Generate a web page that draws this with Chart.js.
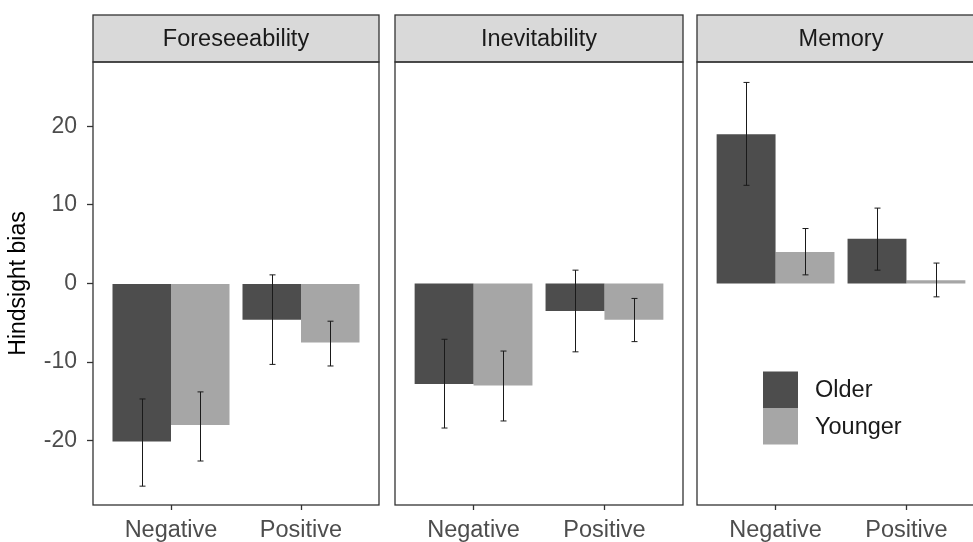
<!DOCTYPE html>
<html><head><meta charset="utf-8">
<script src="https://cdn.jsdelivr.net/npm/chart.js@4.4.1/dist/chart.umd.min.js"></script>
<style>
html,body{margin:0;padding:0;background:#fff;overflow:hidden;width:973px;height:542px;position:relative;}
canvas{position:absolute;top:0;}
</style></head><body>
<canvas id="c1" width="385" height="542" style="left:0px"></canvas>
<canvas id="c2" width="300" height="542" style="left:389px"></canvas>
<canvas id="c3" width="300" height="542" style="left:691px"></canvas>
<script>
// ---- data ----
const categories = ['Negative', 'Positive'];
const panels = ['Foreseeability', 'Inevitability', 'Memory'];
const groups = ['Older', 'Younger'];
const yTicks = [-20, -10, 0, 10, 20];

const foreOlder = [-20.1, -4.6];
const foreOlderLo = [-25.8, -10.3];
const foreOlderHi = [-14.7, 1.1];
const foreYounger = [-18.0, -7.5];
const foreYoungerLo = [-22.6, -10.5];
const foreYoungerHi = [-13.8, -4.8];

const inevOlder = [-12.8, -3.5];
const inevOlderLo = [-18.4, -8.7];
const inevOlderHi = [-7.1, 1.7];
const inevYounger = [-13.0, -4.6];
const inevYoungerLo = [-17.5, -7.4];
const inevYoungerHi = [-8.6, -1.9];

const memOlder = [19.0, 5.7];
const memOlderLo = [12.5, 1.7];
const memOlderHi = [25.6, 9.6];
const memYounger = [4.0, 0.4];
const memYoungerLo = [1.1, -1.7];
const memYoungerHi = [7.0, 2.6];

// ---- styles ----
const FONT = '"Liberation Sans", Arial, sans-serif';
const colors = ['#4d4d4d', '#a6a6a6'];
const Y_MIN = -28.2, Y_MAX = 28.2;

function toXY(vals) { return vals.map((v, i) => ({ x: i + 1, y: v })); }

const facetPlugin = {
  id: 'facet',
  beforeDraw(chart) {
    const { ctx, chartArea: a } = chart;
    const o = chart.options.plugins.facet;
    ctx.save();
    ctx.fillStyle = '#d9d9d9';
    ctx.fillRect(a.left, 15, a.right - a.left, a.top - 15);
    ctx.strokeStyle = '#333333';
    ctx.lineWidth = 1.3;
    ctx.strokeRect(a.left, 15, a.right - a.left, a.top - 15);
    ctx.fillStyle = '#1a1a1a';
    ctx.font = '23.5px ' + FONT;
    ctx.textAlign = 'center';
    ctx.textBaseline = 'middle';
    ctx.fillText(o.title, (a.left + a.right) / 2, (15 + a.top) / 2 + 1);
    ctx.restore();
  },
  afterDatasetsDraw(chart) {
    const { ctx, chartArea: a, scales } = chart;
    const o = chart.options.plugins.facet;
    ctx.save();
    // error bars
    ctx.strokeStyle = '#1a1a1a';
    ctx.lineWidth = 1;
    chart.data.datasets.forEach((ds, i) => {
      const meta = chart.getDatasetMeta(i);
      meta.data.forEach((el, j) => {
        const x = Math.round(el.x) + 0.5;
        const y1 = scales.y.getPixelForValue(ds.errLo[j]);
        const y2 = scales.y.getPixelForValue(ds.errHi[j]);
        ctx.beginPath();
        ctx.moveTo(x, y1); ctx.lineTo(x, y2);
        ctx.moveTo(x - 3, y1); ctx.lineTo(x + 3, y1);
        ctx.moveTo(x - 3, y2); ctx.lineTo(x + 3, y2);
        ctx.stroke();
      });
    });
    // panel border
    ctx.strokeStyle = '#333333';
    ctx.lineWidth = 1.3;
    ctx.strokeRect(a.left, a.top, a.right - a.left, a.bottom - a.top);
    // legend
    if (o.legend) {
      const kx = a.left + 66, kw = 35, kh = 36.5;
      let ky = a.top + 309.5;
      ctx.font = '23.5px ' + FONT;
      ctx.textAlign = 'left';
      ctx.textBaseline = 'middle';
      chart.data.datasets.forEach((ds, i) => {
        ctx.fillStyle = ds.backgroundColor;
        ctx.fillRect(kx, ky, kw, kh);
        ctx.fillStyle = '#1a1a1a';
        ctx.fillText(ds.label, kx + 52, ky + kh / 2 + 1);
        ky += kh;
      });
    }
    ctx.restore();
  }
};

function makeChart(id, title, older, olderLo, olderHi, younger, youngerLo, youngerHi, first, legend) {
  return new Chart(document.getElementById(id), {
    type: 'bar',
    data: {
      datasets: [
        { label: groups[0], data: toXY(older), errLo: olderLo, errHi: olderHi, backgroundColor: colors[0], borderWidth: 0 },
        { label: groups[1], data: toXY(younger), errLo: youngerLo, errHi: youngerHi, backgroundColor: colors[1], borderWidth: 0 }
      ]
    },
    options: {
      responsive: false,
      animation: false,
      events: [],
      layout: { padding: { top: 62, bottom: 0, left: first ? 0 : 6, right: 6 } },
      datasets: { bar: { categoryPercentage: 0.9, barPercentage: 1.0 } },
      plugins: {
        legend: { display: false },
        tooltip: { enabled: false },
        facet: { title: title, legend: legend }
      },
      scales: {
        x: {
          type: 'linear', min: 0.4, max: 2.6, offset: false,
          afterBuildTicks: s => { s.ticks = categories.map((c, i) => ({ value: i + 1 })); },
          afterFit: s => { s.height = 37; },
          ticks: {
            autoSkip: false, maxRotation: 0, padding: 6,
            color: '#4d4d4d', font: { family: FONT, size: 23.5 },
            callback: (v, i) => categories[i]
          },
          grid: { offset: false, drawOnChartArea: false, drawTicks: true, tickLength: 5, tickColor: '#333333', tickWidth: 1.3 },
          border: { display: false }
        },
        y: {
          display: first,
          min: Y_MIN, max: Y_MAX,
          afterBuildTicks: s => { s.ticks = yTicks.map(v => ({ value: v })); },
          afterFit: s => { s.width = first ? 93 : 0; },
          ticks: { padding: 10, color: '#4d4d4d', font: { family: FONT, size: 23 } },
          grid: { drawOnChartArea: false, drawTicks: true, tickLength: 6, tickColor: '#333333', tickWidth: 1.3 },
          border: { display: false },
          title: { display: true, text: 'Hindsight bias', color: '#000', font: { family: FONT, size: 23 }, padding: { top: 5, bottom: 0 } }
        }
      }
    },
    plugins: [facetPlugin]
  });
}

makeChart('c1', panels[0], foreOlder, foreOlderLo, foreOlderHi, foreYounger, foreYoungerLo, foreYoungerHi, true, false);
makeChart('c2', panels[1], inevOlder, inevOlderLo, inevOlderHi, inevYounger, inevYoungerLo, inevYoungerHi, false, false);
makeChart('c3', panels[2], memOlder, memOlderLo, memOlderHi, memYounger, memYoungerLo, memYoungerHi, false, true);
</script>
</body></html>
